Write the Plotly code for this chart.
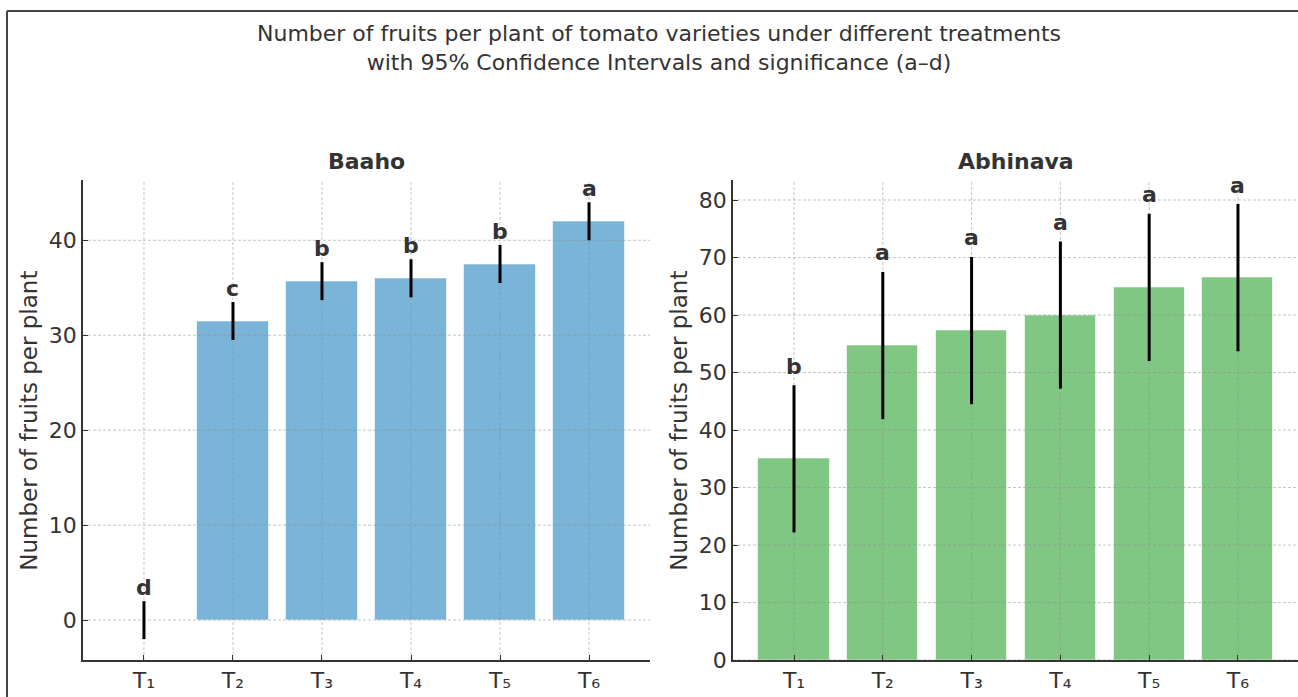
import plotly.graph_objects as go

# Treatments and per-variety results
treatments = ["T₁", "T₂", "T₃", "T₄", "T₅", "T₆"]
baaho_mean = [0.0, 31.5, 35.7, 36.0, 37.5, 42.0]
baaho_ci = [2.0, 2.0, 2.0, 2.0, 2.0, 2.0]
baaho_sig = ["d", "c", "b", "b", "b", "a"]
abhinava_mean = [35.0, 54.7, 57.3, 60.0, 64.8, 66.5]
abhinava_ci = [12.8, 12.8, 12.8, 12.8, 12.8, 12.8]
abhinava_sig = ["b", "a", "a", "a", "a", "a"]

W, H = 1298, 697
HV = 686  # vertical pixel extent used for paper-coordinate placement
FONT = "DejaVu Sans"
TXT = "#333333"
GRID = "rgba(140,140,140,0.5)"


def py(pix):
    """Paper y for a pixel row measured from the top."""
    return 1 - pix / HV


panels = [
    dict(name="Baaho", mean=baaho_mean, ci=baaho_ci, sig=baaho_sig, color="#7ab4d8",
         xa="x", ya="y", dom=[83 / W, 650 / W], xr=[-0.685, 5.685], yr=[-4.21, 46.3],
         yticks=[0, 10, 20, 30, 40], lshift=14, ytitle_x=29 / W),
    dict(name="Abhinava", mean=abhinava_mean, ci=abhinava_ci, sig=abhinava_sig, color="#81c784",
         xa="x2", ya="y2", dom=[733 / W, 1.0], xr=[-0.687, 5.676], yr=[0, 83.4],
         yticks=[0, 10, 20, 30, 40, 50, 60, 70, 80], lshift=19, ytitle_x=679 / W),
]

ydom = [py(662), py(181)]
xpos = list(range(len(treatments)))

fig = go.Figure()
annotations = []

for p in panels:
    # bars
    fig.add_trace(go.Bar(
        x=xpos, y=p["mean"], width=0.8, xaxis=p["xa"], yaxis=p["ya"],
        marker=dict(color=p["color"], line=dict(color="rgba(255,255,255,0.6)", width=1)),
        showlegend=False, hoverinfo="skip",
    ))
    # dashed grid drawn over the bars
    for yv in p["yticks"]:
        fig.add_trace(go.Scatter(
            x=p["xr"], y=[yv, yv], mode="lines", xaxis=p["xa"], yaxis=p["ya"],
            line=dict(color=GRID, width=1, dash="3px,2px"), showlegend=False, hoverinfo="skip",
        ))
    for xv in xpos:
        fig.add_trace(go.Scatter(
            x=[xv, xv], y=p["yr"], mode="lines", xaxis=p["xa"], yaxis=p["ya"],
            line=dict(color=GRID, width=1, dash="3px,2px"), showlegend=False, hoverinfo="skip",
        ))
    # 95% confidence intervals
    fig.add_trace(go.Scatter(
        x=xpos, y=p["mean"], mode="markers", xaxis=p["xa"], yaxis=p["ya"],
        marker=dict(size=1, opacity=0),
        error_y=dict(type="data", array=p["ci"], visible=True, thickness=3, width=0, color="black"),
        showlegend=False, hoverinfo="skip",
    ))
    # significance letters
    for xv, m, c, s in zip(xpos, p["mean"], p["ci"], p["sig"]):
        annotations.append(dict(
            x=xv, y=m + c, xref=p["xa"], yref=p["ya"], text="<b>%s</b>" % s, showarrow=False,
            yanchor="middle", yshift=p["lshift"],
            font=dict(family=FONT, size=22, color=TXT),
        ))
    # panel title
    annotations.append(dict(
        x=(p["dom"][0] + p["dom"][1]) / 2, y=py(162), xref="paper", yref="paper",
        text="<b>%s</b>" % p["name"], showarrow=False, xanchor="center", yanchor="middle",
        font=dict(family=FONT, size=22, color=TXT),
    ))
    # y-axis title
    annotations.append(dict(
        x=p["ytitle_x"], y=py(422), xref="paper", yref="paper",
        text="Number of fruits per plant", textangle=-90, showarrow=False,
        xanchor="center", yanchor="middle", font=dict(family=FONT, size=23, color=TXT),
    ))

annotations.append(dict(
    x=659 / W, y=py(48.5), xref="paper", yref="paper",
    text="Number of fruits per plant of tomato varieties under different treatments<br>"
         "with 95% Confidence Intervals and significance (a–d)",
    showarrow=False, xanchor="center", yanchor="middle",
    font=dict(family=FONT, size=22, color=TXT),
))

axis_common = dict(
    showline=True, linecolor=TXT, linewidth=1.6, showgrid=False, zeroline=False,
    ticks="inside", ticklen=5, tickwidth=1.2, tickcolor=TXT,
    tickfont=dict(family=FONT, size=22, color=TXT),
)

layout_axes = {}
for i, p in enumerate(panels):
    sx = "" if i == 0 else str(i + 1)
    layout_axes["xaxis" + sx] = dict(
        axis_common, domain=p["dom"], range=p["xr"], anchor=p["ya"],
        tickmode="array", tickvals=xpos, ticktext=treatments,
    )
    layout_axes["yaxis" + sx] = dict(
        axis_common, domain=ydom, range=p["yr"], anchor=p["xa"],
        tickmode="array", tickvals=p["yticks"],
    )

fig.update_layout(
    width=W, height=H, autosize=False, margin=dict(l=0, r=0, t=0, b=0),
    paper_bgcolor="white", plot_bgcolor="white",
    annotations=annotations, bargap=0,
    shapes=[
        dict(type="line", xref="paper", yref="paper", x0=7 / W, x1=1, y0=py(11), y1=py(11),
             line=dict(color="#444444", width=2)),
        dict(type="line", xref="paper", yref="paper", x0=7 / W, x1=7 / W, y0=py(700), y1=py(11),
             line=dict(color="#444444", width=2)),
    ],
    **layout_axes,
)

fig.write_html("out.html", config={"responsive": False})
